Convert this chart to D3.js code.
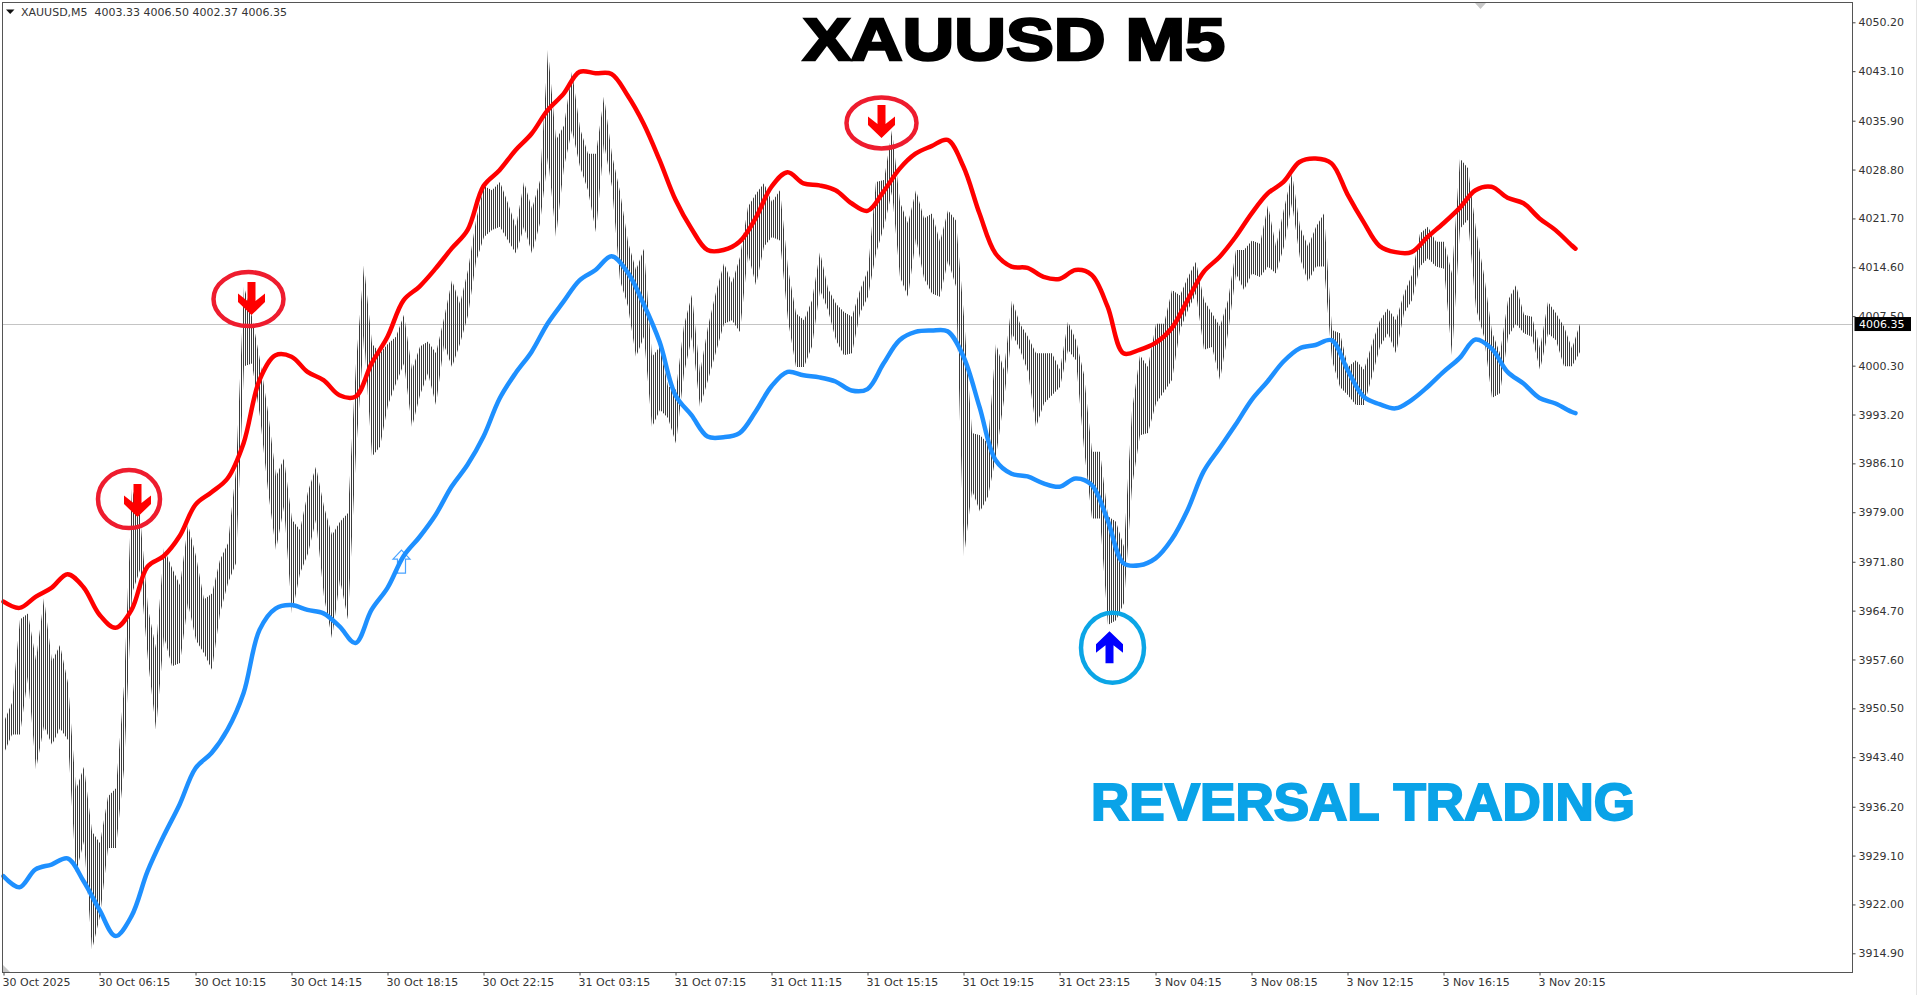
<!DOCTYPE html>
<html><head><meta charset="utf-8">
<script src="https://cdn.jsdelivr.net/npm/d3@7/dist/d3.min.js"></script>
<style>html,body{margin:0;padding:0;background:#fff;overflow:hidden}svg{display:block}</style>
</head><body><div id="chart"></div>
<script>
const priceTicks=[4050.20,4043.10,4035.90,4028.80,4021.70,4014.60,4007.50,4000.30,3993.20,3986.10,3979.00,3971.80,3964.70,3957.60,3950.50,3943.40,3936.20,3929.10,3922.00,3914.90];
const timeLabels=["30 Oct 2025","30 Oct 06:15","30 Oct 10:15","30 Oct 14:15","30 Oct 18:15","30 Oct 22:15","31 Oct 03:15","31 Oct 07:15","31 Oct 11:15","31 Oct 15:15","31 Oct 19:15","31 Oct 23:15","3 Nov 04:15","3 Nov 08:15","3 Nov 12:15","3 Nov 16:15","3 Nov 20:15"];
const lastPrice=4006.35;
const header="XAUUSD,M5  4003.33 4006.50 4002.37 4006.35";
const titleText="XAUUSD M5";
const subtitleText="REVERSAL TRADING";
// High / low of each 20-minute block of M5 bars
const highs=[3948.6,3951.3,3963.4,3964.3,3957.5,3966.5,3957.3,3959.7,3954.2,3938.7,3942.0,3932.6,3930.9,3937.7,3938.9,3953.7,3982.5,3978.6,3965.0,3959.2,3973.8,3970.9,3968.4,3977.2,3972.6,3966.3,3967.2,3972.1,3974.5,3985.1,
4011.8,4007.4,4001.1,3993.6,3984.2,3986.8,3977.9,3976.4,3982.0,3985.6,3979.8,3975.7,3977.6,3978.9,4000.6,4014.9,4003.5,4002.1,4003.5,4004.5,4007.7,3999.7,4003.1,4003.8,4002.1,4007.2,4012.7,4009.3,4014.2,4021.4,4026.4,
4025.8,4027.0,4023.9,4020.5,4027.0,4023.1,4027.2,4046.2,4033.1,4035.2,4043.0,4034.8,4031.1,4031.1,4039.4,4030.9,4025.6,4018.3,4014.2,4017.3,4001.6,4003.1,3997.3,3996.8,4006.2,4010.6,3999.2,4006.0,4011.0,4015.2,4012.3,4016.1,4023.4,4025.3,4026.8,4024.1,4025.8,4014.4,
4007.9,4006.9,4009.8,4016.8,4011.5,4009.3,4008.1,4007.4,4011.3,4014.2,4027.0,4027.3,4034.5,4024.1,4021.0,4025.8,4021.7,4022.4,4018.3,4022.9,4021.4,4007.4,3990.5,3990.2,3989.0,4003.5,3999.7,4009.8,4006.4,4004.5,4002.1,4002.1,4002.1,3999.7,4006.7,4004.0,
3999.0,3987.8,3987.8,3978.4,3977.6,3974.0,3993.8,4001.8,4000.1,4006.4,4006.4,4011.3,4010.5,4013.2,4015.4,4009.8,4007.9,4006.0,4009.8,4017.1,4017.1,4018.5,4018.0,4023.6,4017.6,4023.1,4028.2,4020.5,4017.6,4020.5,4022.4,4005.5,4005.0,4000.1,
4001.1,3999.7,4003.5,4006.9,4008.6,4006.9,4010.8,4013.5,4019.5,4020.5,4018.3,4018.3,4013.7,4030.4,4029.0,4020.0,4013.5,4005.2,4002.1,4009.8,4012.0,4007.7,4007.4,4002.8,4009.6,4007.9,4006.0,4002.8,4006.4];
const lows=[3944.0,3946.7,3946.7,3955.1,3941.6,3947.9,3945.2,3947.6,3945.9,3926.6,3931.2,3915.4,3920.3,3930.2,3930.2,3941.6,3967.2,3970.6,3957.5,3947.4,3960.9,3956.6,3957.1,3965.8,3960.4,3958.5,3956.1,3964.3,3968.7,3971.6,
4000.2,4000.6,3992.9,3982.2,3973.5,3979.8,3964.3,3970.1,3973.0,3977.9,3966.7,3960.7,3969.2,3963.4,3987.6,4004.7,3987.1,3988.5,3994.6,3997.7,4000.6,3991.4,3996.0,3999.2,3994.6,4003.3,4000.1,4003.5,4007.6,4015.4,4019.0,
4020.0,4020.5,4018.5,4016.6,4020.5,4016.6,4021.0,4030.6,4019.0,4029.2,4034.5,4029.2,4025.8,4019.7,4032.6,4026.3,4012.7,4008.9,4001.6,4004.5,3991.4,3993.9,3992.7,3989.0,3999.2,4004.5,3994.3,3998.2,4002.3,4006.4,4006.9,4005.2,4016.6,4012.0,4017.6,4019.0,4018.5,4006.9,
4000.1,4000.1,4003.1,4011.3,4008.4,4004.0,4001.8,4002.1,4007.9,4010.3,4016.6,4020.5,4025.6,4013.2,4010.3,4018.8,4013.0,4010.8,4010.3,4015.6,4011.8,3972.6,3982.2,3979.1,3981.3,3987.1,3995.3,4005.0,4002.6,3999.4,3991.4,3994.8,3996.0,3997.2,4002.6,4001.1,
3988.3,3978.1,3978.1,3962.6,3963.3,3965.8,3982.7,3990.2,3990.5,3994.8,3996.5,3998.2,4005.5,4008.4,4010.8,4002.6,4003.0,3998.2,4005.0,4013.7,4011.3,4013.7,4013.2,4014.7,4013.7,4017.6,4023.9,4015.9,4012.5,4014.7,4014.7,4001.1,3997.2,3996.0,
3994.6,3994.6,3998.7,4003.1,4005.0,4002.1,4007.9,4009.8,4014.7,4015.9,4014.7,4014.4,4001.8,4020.2,4021.5,4008.6,4004.5,3995.6,3996.3,4004.5,4006.4,4005.0,4004.5,3999.7,4005.0,4004.0,4000.2,4000.2,4002.3];
const barsPerBlock=4;
// Envelope lines, one reading per 40 minutes
const upperBand=[3966.0,3965.1,3966.7,3968.0,3970.0,3968.1,3964.1,3962.2,3964.8,3971.1,3972.6,3975.5,3980.1,3981.9,3983.9,3989.0,3998.2,4001.8,4001.6,3999.4,3998.2,3996.0,3995.8,4000.6,4004.5,4009.8,4011.8,4014.4,4017.3,4020.0,4026.4,4028.7,4031.6,4034.0,4037.4,4039.8,4043.0,4042.8,4042.7,4039.6,4035.5,4030.2,4024.4,4020.2,4017.1,4017.1,4018.3,4021.7,4026.3,4028.4,4026.8,4026.5,4025.8,4023.9,4022.8,4025.6,4028.9,4031.1,4032.2,4033.1,4029.2,4022.4,4016.6,4014.7,4014.5,4013.2,4012.9,4014.2,4013.5,4008.9,4002.1,4002.6,4003.6,4005.7,4009.8,4013.9,4016.1,4019.0,4022.4,4025.3,4027.0,4029.9,4030.4,4029.7,4025.2,4021.2,4017.7,4016.8,4016.8,4019.0,4021.0,4023.2,4025.8,4026.3,4024.7,4023.9,4021.7,4020.0,4017.8,4017.3];
const lowerBand=[3926.1,3924.5,3927.1,3927.8,3928.7,3925.4,3921.2,3917.4,3920.3,3926.8,3931.9,3936.5,3941.8,3944.0,3947.4,3952.7,3961.9,3965.0,3965.5,3964.8,3964.3,3962.4,3960.0,3964.8,3968.0,3972.6,3975.4,3978.6,3982.7,3985.9,3990.0,3995.5,3999.2,4002.3,4006.4,4009.6,4012.7,4014.2,4016.2,4013.9,4009.3,4003.8,3996.0,3993.1,3990.0,3989.9,3990.5,3993.6,3997.3,3999.4,3998.9,3998.6,3998.0,3996.7,3996.9,4000.6,4004.0,4005.2,4005.4,4005.3,4001.6,3994.3,3986.6,3984.6,3984.2,3983.2,3982.7,3983.9,3983.0,3977.9,3971.6,3971.3,3972.3,3975.0,3979.3,3984.9,3988.3,3991.7,3995.3,3998.0,4000.9,4002.8,4003.3,4004.0,3999.7,3995.8,3994.7,3994.1,3995.3,3997.2,3999.4,4001.4,4004.1,4002.8,3999.4,3997.7,3995.6,3994.8,3993.6,3993.4];
const bandStep=8, lastBar=786;
// Reversal signals: bar index and price at the arrow tip
const sellBars=[67,124,439];
const sellPrices=[3978.3,4007.65,4033.4];
const buyBars=[553];
const buyPrices=[3961.7];
const hollowBars=[199];
const hollowPrices=[3973.5];

const W=1917,H=995;
const plot={l:2.5,t:2.5,r:1852.5,b:972.5};
const svg=d3.select("#chart").append("svg").attr("width",W).attr("height",H);
const x=d3.scaleLinear().domain([0,lastBar]).range([3.5,3.5+2*lastBar]);
const y=d3.scaleLinear().domain([4050.2,3914.9]).range([22.3,953.3]);
const uiFont='"DejaVu Sans",sans-serif', uiSize=11;

const defs=svg.append("defs");
defs.append("clipPath").attr("id","plotClip").append("rect")
 .attr("x",plot.l).attr("y",plot.t).attr("width",plot.r-plot.l).attr("height",plot.b-plot.t);
const pat=defs.append("pattern").attr("id","comb").attr("patternUnits","userSpaceOnUse").attr("width",2).attr("height",4);
pat.append("rect").attr("x",1).attr("y",0).attr("width",1).attr("height",4).attr("fill","#3c3c3c");

// last price line
svg.append("line").attr("x1",plot.l).attr("x2",plot.r).attr("y1",Math.round(y(lastPrice))+.5).attr("y2",Math.round(y(lastPrice))+.5).attr("stroke","#c4c4c4");

// bars: high-low range of the M5 bars, drawn as one-pixel columns
const barRange=d3.area().x((d,i)=>x(i*barsPerBlock)+0.5).y0((d,i)=>y(lows[i])).y1(d=>y(d));
svg.append("g").attr("clip-path","url(#plotClip)").append("path").attr("d",barRange(highs)).attr("fill","url(#comb)");

// band lines
const bandX=i=>i===upperBand.length-1?lastBar:i*bandStep;
const line=d3.line().x((d,i)=>x(bandX(i))).y(d=>y(d)).curve(d3.curveCatmullRom.alpha(0.5));
// hollow arrow sits under the line
const hollowPath="M0,0L8.5,9L4,9L4,23L-4,23L-4,9L-8.5,9Z";
svg.selectAll("path.hollow").data(hollowBars).join("path").attr("class","hollow")
 .attr("d",hollowPath).attr("transform",(d,i)=>`translate(${x(d)},${y(hollowPrices[i])})`)
 .attr("fill","#fff").attr("stroke","#4aa3ff").attr("stroke-width",1.2);
svg.append("path").attr("d",line(upperBand)).attr("fill","none").attr("stroke","#ff0000").attr("stroke-width",4.5).attr("stroke-linejoin","round").attr("stroke-linecap","round");
svg.append("path").attr("d",line(lowerBand)).attr("fill","none").attr("stroke","#1e90ff").attr("stroke-width",4.5).attr("stroke-linejoin","round").attr("stroke-linecap","round");

// signals
const downArrow="M0,0L13.5,-13L13.5,-21.5L4,-14L4,-33L-4,-33L-4,-14L-13.5,-21.5L-13.5,-13Z";
const upArrow="M0,0L13.5,13L13.5,21.5L4,14L4,32L-4,32L-4,14L-13.5,21.5L-13.5,13Z";
const sellRings=[[-8.5,-18,31,29],[-3,-16,35,27],[0,-15,35,25.5]];
const sell=svg.selectAll("g.sell").data(sellBars).join("g").attr("class","sell")
 .attr("transform",(d,i)=>`translate(${x(d)},${y(sellPrices[i])})`);
sell.append("ellipse").attr("cx",(d,i)=>sellRings[i][0]).attr("cy",(d,i)=>sellRings[i][1])
 .attr("rx",(d,i)=>sellRings[i][2]).attr("ry",(d,i)=>sellRings[i][3])
 .attr("fill","none").attr("stroke","#ee1c2e").attr("stroke-width",4.5);
sell.append("path").attr("d",downArrow).attr("fill","#ff0000");
const buy=svg.selectAll("g.buy").data(buyBars).join("g").attr("class","buy")
 .attr("transform",(d,i)=>`translate(${x(d)},${y(buyPrices[i])})`);
buy.append("ellipse").attr("cx",3).attr("cy",16.5).attr("rx",31.5).attr("ry",35).attr("fill","none").attr("stroke","#0ba5e6").attr("stroke-width",4.5);
buy.append("path").attr("d",upArrow).attr("fill","#0000ff");

// frame
svg.append("rect").attr("x",plot.l).attr("y",plot.t).attr("width",plot.r-plot.l).attr("height",plot.b-plot.t).attr("fill","none").attr("stroke","#555");
svg.append("line").attr("x1",1916.5).attr("x2",1916.5).attr("y1",0).attr("y2",H).attr("stroke","#e4e4e4");
svg.append("path").attr("d",`M3,972L3,965L10,972Z`).attr("fill","#c8c8c8");
svg.append("path").attr("d",`M1475,3L1486,3L1480.5,9Z`).attr("fill","#c8c8c8");

// axes
const yAxis=d3.axisRight(y).tickValues(priceTicks).tickFormat(d3.format(".2f")).tickSize(3).tickPadding(3);
const gy=svg.append("g").attr("transform",`translate(${plot.r},0)`).call(yAxis);
const xAxis=d3.axisBottom(x).tickValues(timeLabels.map((d,i)=>i*48)).tickFormat((d,i)=>timeLabels[i]).tickSize(3).tickPadding(3);
const gx=svg.append("g").attr("transform",`translate(0,${plot.b})`).call(xAxis);
[gy,gx].forEach(g=>{g.select(".domain").remove();g.selectAll("line").attr("stroke","#444");
 g.selectAll("text").attr("font-family",uiFont).attr("font-size",uiSize).attr("fill","#333");});
gx.selectAll("text").attr("text-anchor","start").attr("dx",-1.5);

// last price tag
svg.append("rect").attr("x",1854.5).attr("y",y(lastPrice)-7).attr("width",56.5).attr("height",14).attr("fill","#000");
svg.append("text").attr("x",1859).attr("y",y(lastPrice)).attr("dy","0.34em").attr("font-family",uiFont).attr("font-size",uiSize).attr("fill","#fff").text(d3.format(".2f")(lastPrice));

// header
svg.append("path").attr("d","M6,9.5L14.5,9.5L10.2,14Z").attr("fill","#111");
svg.append("text").attr("x",21).attr("y",12.5).attr("dy","0.34em").attr("font-family",uiFont).attr("font-size",uiSize).attr("fill","#333").style("white-space","pre").text(header);

// big captions
svg.append("text").attr("x",803).attr("y",60).attr("font-family",'"Liberation Sans",sans-serif').attr("font-weight",700).attr("font-size",60).attr("fill","#000").attr("stroke","#000").attr("stroke-width",2.5).attr("textLength",422).attr("lengthAdjust","spacingAndGlyphs").text(titleText);
svg.append("text").attr("x",1091).attr("y",820).attr("font-family",'"Liberation Sans",sans-serif').attr("font-weight",700).attr("font-size",52).attr("fill","#0aa3e8").attr("stroke","#0aa3e8").attr("stroke-width",2).attr("textLength",544).attr("lengthAdjust","spacingAndGlyphs").text(subtitleText);
</script></body></html>
